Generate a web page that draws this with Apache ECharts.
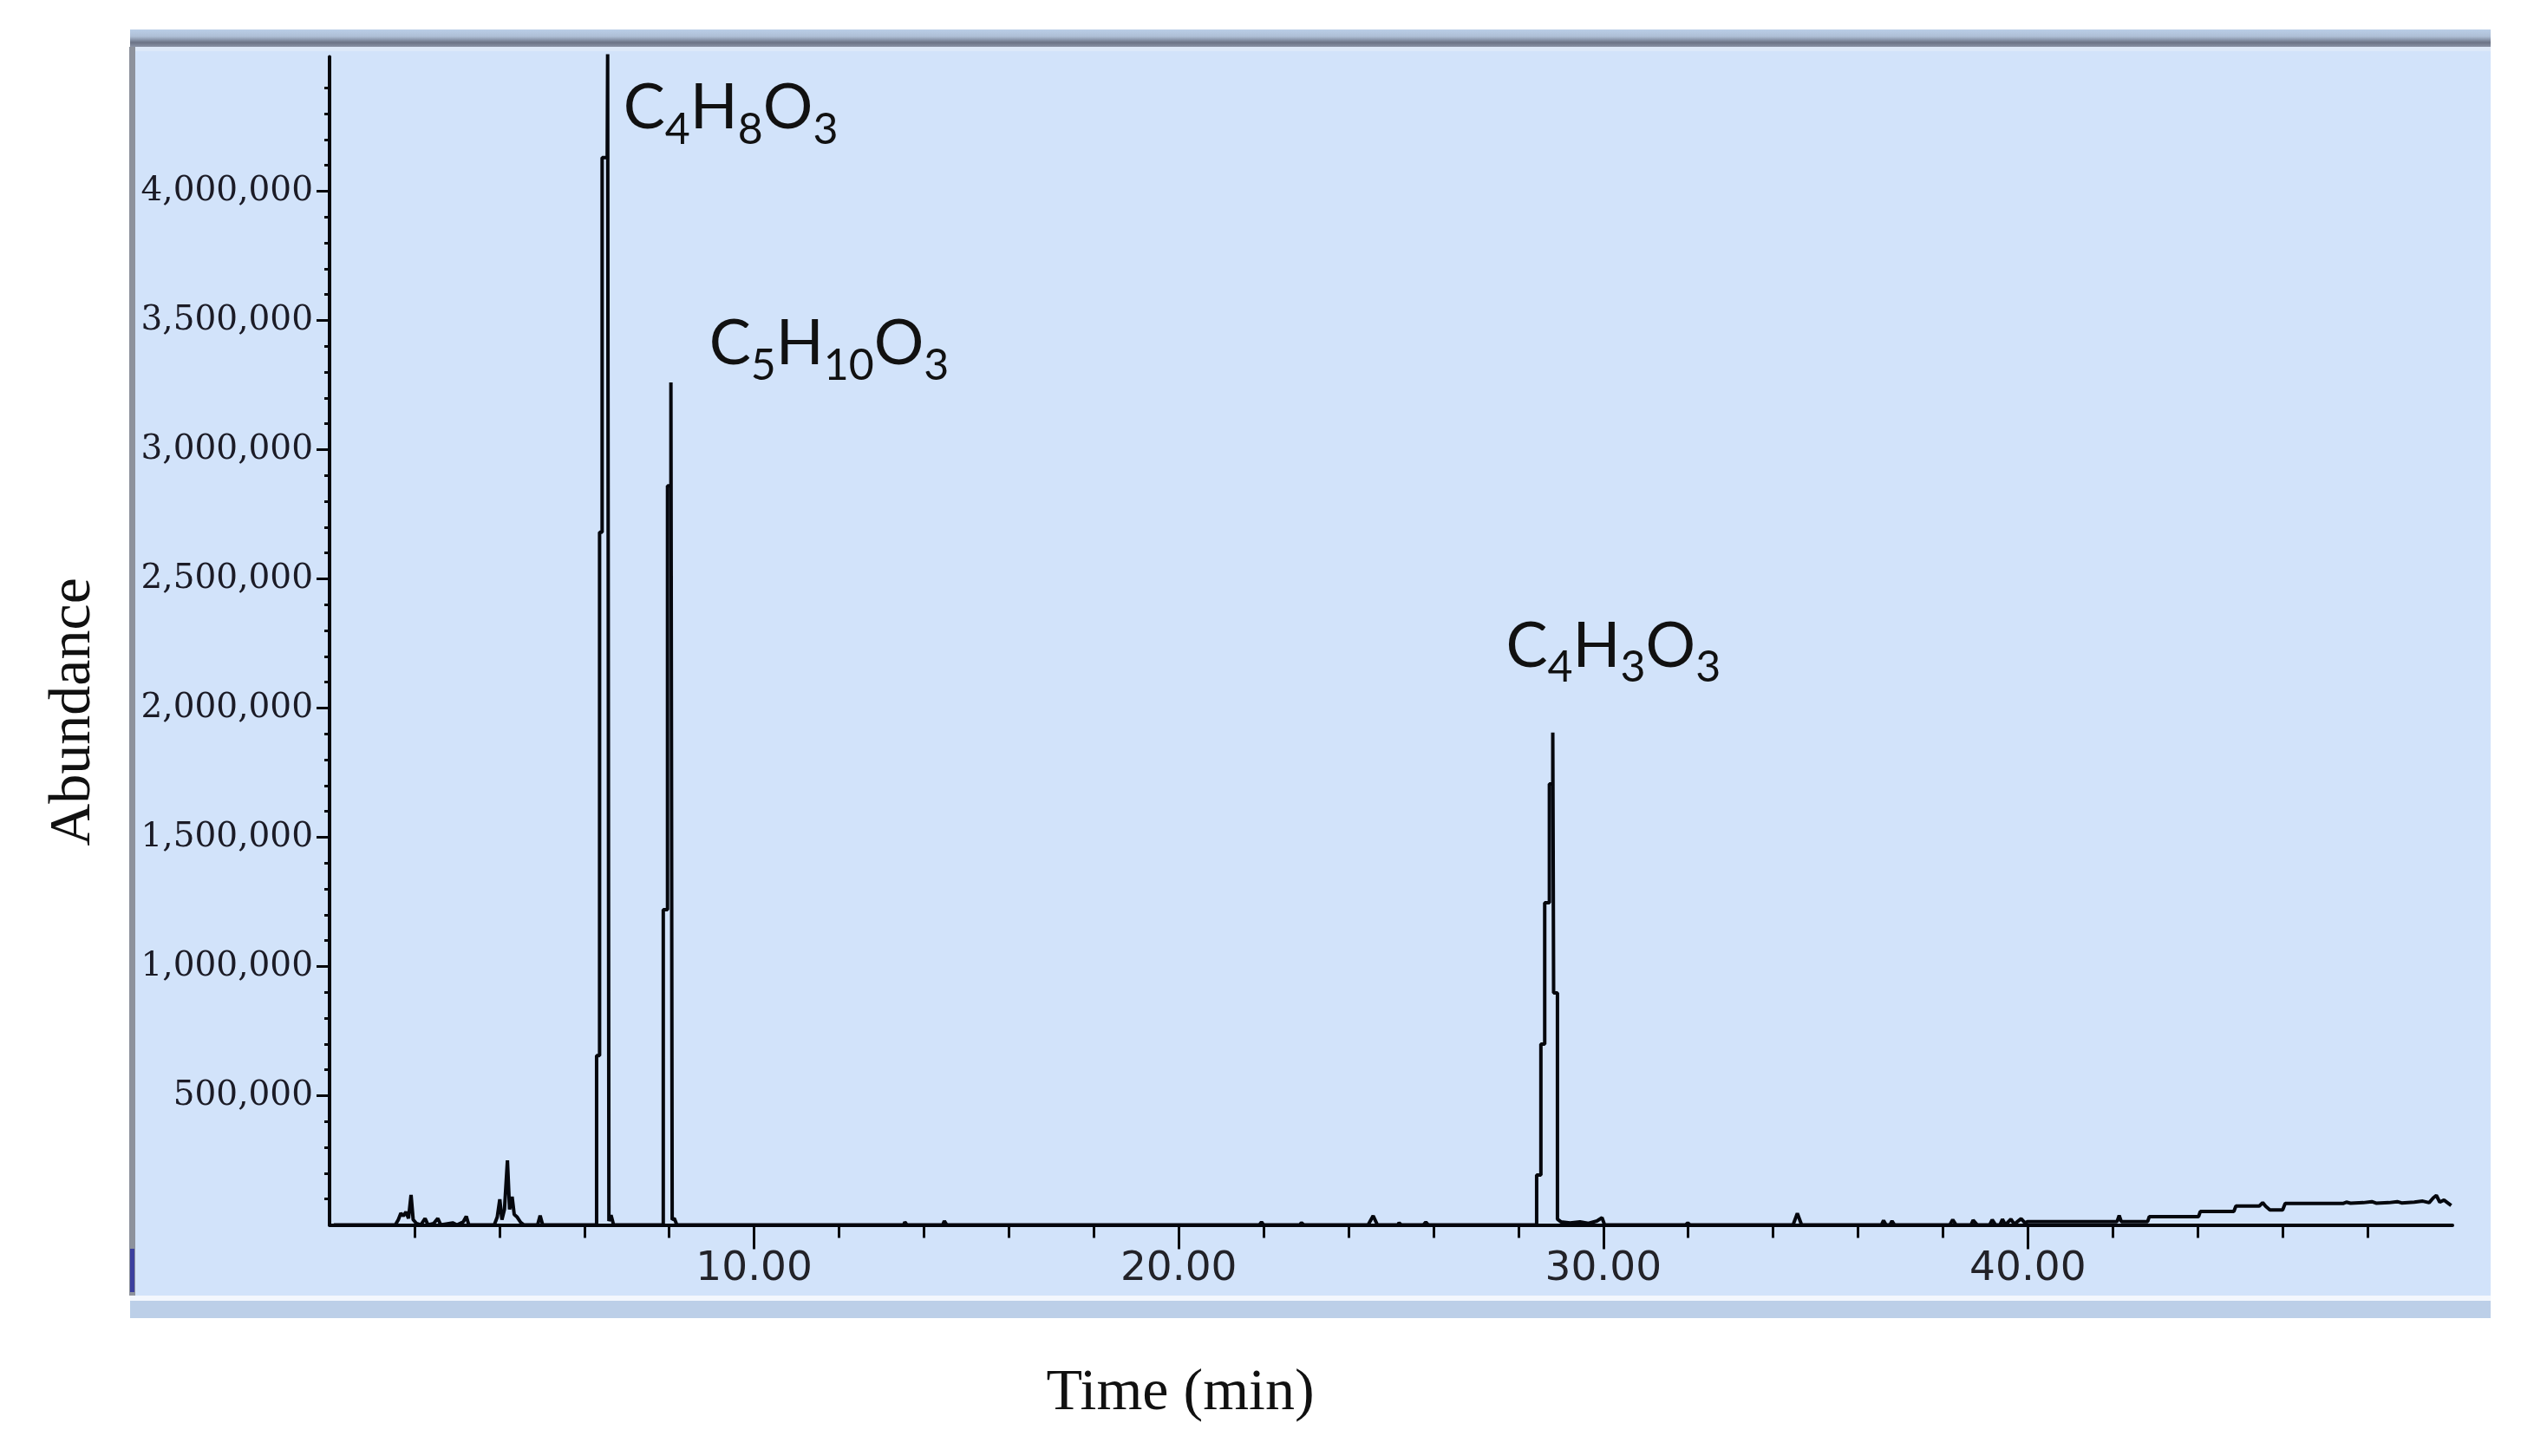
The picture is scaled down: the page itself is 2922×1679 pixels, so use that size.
<!DOCTYPE html>
<html>
<head>
<meta charset="utf-8">
<title>Chromatogram</title>
<script src="https://cdn.jsdelivr.net/npm/echarts@6/dist/echarts.min.js"></script>
<style>
  html, body { margin: 0; padding: 0; background: #ffffff; }
  #chart { width: 2922px; height: 1679px; }
</style>
</head>
<body>
<div id="chart"></div>
<script>
// retention time (min)
const times = [
  0.10, 1.55, 1.62, 1.68, 1.74, 1.80, 1.86, 1.92, 1.97, 2.05, 2.15, 2.25, 2.32, 2.45, 2.55, 2.62, 2.90, 3.00, 3.15, 3.22, 3.28,
  3.88, 3.95, 4.01, 4.06, 4.12, 4.19, 4.24, 4.30, 4.35, 4.42, 4.50, 4.58, 4.90, 4.96, 5.02,
  6.20, 6.29, 6.29, 6.36, 6.36, 6.42, 6.42, 6.54, 6.55, 6.57, 6.58, 6.63, 6.69,
  7.80, 7.86, 7.86, 7.96, 7.96, 8.04, 8.04, 8.06, 8.07, 8.12, 8.18,
  13.52, 13.55, 13.60, 14.44, 14.48, 14.54, 21.90, 21.95, 22.00, 22.85, 22.89, 22.95, 24.46, 24.58, 24.68, 25.16, 25.19, 25.24, 25.76, 25.82, 25.88,
  28.36, 28.43, 28.43, 28.53, 28.53, 28.62, 28.62, 28.73, 28.73, 28.81, 28.81, 28.83, 28.83, 28.92, 28.92, 29.00, 29.22, 29.45, 29.65, 29.85, 29.97, 30.03,
  31.94, 31.99, 32.04, 34.47, 34.57, 34.67, 36.55, 36.60, 36.66, 36.75, 36.80, 36.86, 38.16, 38.23, 38.31, 38.66, 38.71, 38.81, 39.10, 39.16, 39.24, 39.34, 39.40, 39.47, 39.60, 39.68, 39.84, 39.93,
  40.00, 42.10, 42.15, 42.20, 42.82, 42.86, 44.02, 44.06, 44.85, 44.90, 45.45, 45.53, 45.60, 45.70, 46.00, 46.06, 47.42, 47.50, 47.60, 47.90, 48.10, 48.20, 48.50, 48.70, 48.80, 49.10, 49.30, 49.45, 49.55, 49.62, 49.70, 49.80, 49.97
]
// abundance at each time
const abundance = [
  0, 0, 20000, 45000, 35000, 50000, 25000, 116000, 20000, 5000, 0, 25000, 0, 5000, 25000, 0, 8000, 0, 12000, 33000, 0,
  0, 30000, 99000, 20000, 60000, 250000, 60000, 109000, 40000, 30000, 10000, 0, 0, 36000, 0,
  0, 0, 655000, 655000, 2680000, 2680000, 4130000, 4130000, 4530000, 4530000, 15000, 38000, 0,
  0, 0, 1220000, 1220000, 2860000, 2860000, 3260000, 3260000, 20000, 25000, 0,
  0, 11000, 0, 0, 15000, 0, 0, 11000, 0, 0, 8000, 0, 0, 35000, 0, 0, 8000, 0, 0, 11000, 0,
  0, 0, 193000, 193000, 700000, 700000, 1247000, 1247000, 1706000, 1706000, 1905000, 1905000, 898000, 898000, 22000, 12000, 8000, 12000, 6000, 15000, 28000, 0,
  0, 8000, 0, 0, 45000, 0, 0, 17000, 0, 0, 15000, 0, 0, 20000, 0, 0, 18000, 0, 0, 20000, 0, 0, 22000, 0, 22000, 3000, 24000, 8000,
  13000, 13000, 36000, 13000, 13000, 32000, 32000, 52000, 52000, 73000, 73000, 86000, 72000, 58000, 58000, 83000, 83000, 88000, 84000, 86000, 90000, 84000, 86000, 90000, 85000, 88000, 92000, 86000, 105000, 114000, 88000, 96000, 75000
]
// axis tick labels
const xTickLabels = [10, 20, 30, 40]
const yTickLabels = [500000, 1000000, 1500000, 2000000, 2500000, 3000000, 3500000, 4000000]
// labelled peaks
const peakNames = ['C4H8O3', 'C5H10O3', 'C4H3O3']
const peakTimes = [6.56, 8.05, 28.82]

if (times.length !== abundance.length) console.error('length mismatch', times.length, abundance.length)

const ink = '#05070d'
const yMax = 4520000

// peak height = largest abundance close to the peak time (kept inside the axis so the mark shows)
function peakValue(t) {
  let best = 0
  times.forEach((x, i) => {
    if (Math.abs(x - t) < 0.2 && abundance[i] > best) best = abundance[i]
  })
  return Math.min(best, yMax)
}

// C4H8O3 -> rich text with subscripts
function formula(name) {
  return name.split(/(\d+)/).filter(Boolean).map(p => /\d/.test(p) ? '{s|' + p + '}' : '{m|' + p + '}').join('')
}

const labelPos = [[18, 10], [44, -94], [-54, -149]]

const chart = echarts.init(document.getElementById('chart'))

const option = {
  animation: false,
  backgroundColor: '#ffffff',
  grid: { left: 380, right: 94, top: 65.5, bottom: 266.5, containLabel: false },
  xAxis: {
    type: 'value',
    min: 0,
    max: 50,
    interval: 10,
    axisLine: { show: true, lineStyle: { color: ink, width: 4 } },
    axisTick: { show: true, customValues: xTickLabels, length: 28, lineStyle: { color: ink, width: 3 } },
    minorTick: { show: true, splitNumber: 5, length: 15, lineStyle: { color: ink, width: 3 } },
    axisLabel: {
      customValues: xTickLabels,
      formatter: v => v.toFixed(2),
      fontFamily: 'DejaVu Sans',
      fontSize: 47,
      color: '#222228',
      margin: 28
    },
    splitLine: { show: false }
  },
  yAxis: {
    type: 'value',
    min: 0,
    max: yMax,
    interval: 500000,
    axisLine: { show: true, lineStyle: { color: ink, width: 4 } },
    axisTick: { show: true, customValues: yTickLabels, length: 15, lineStyle: { color: ink, width: 3 } },
    minorTick: { show: true, splitNumber: 5, length: 6, lineStyle: { color: ink, width: 3 } },
    axisLabel: {
      customValues: yTickLabels,
      formatter: v => v.toLocaleString('en-US'),
      fontFamily: 'DejaVu Serif',
      fontSize: 39,
      color: '#1b1b26',
      margin: 19
    },
    splitLine: { show: false }
  },
  graphic: {
    elements: [
      // window frame round the plot
      { type: 'rect', z: -10, silent: true, shape: { x: 150, y: 34, width: 2722, height: 20 },
        style: { fill: new echarts.graphic.LinearGradient(0, 0, 0, 1, [
          { offset: 0, color: '#bacee7' },
          { offset: 0.4, color: '#aebfd6' },
          { offset: 0.75, color: '#6b7386' },
          { offset: 1, color: '#8a93a6' }
        ]) } },
      { type: 'rect', z: -10, silent: true, shape: { x: 150, y: 54, width: 2722, height: 1440 }, style: { fill: '#d2e3fa' } },
      { type: 'rect', z: -9, silent: true, shape: { x: 150, y: 54, width: 2722, height: 5 }, style: { fill: '#dde9f9' } },
      { type: 'rect', z: -9, silent: true, shape: { x: 150, y: 1494, width: 2722, height: 6 }, style: { fill: '#f3f7fd' } },
      { type: 'rect', z: -9, silent: true, shape: { x: 150, y: 1500, width: 2722, height: 20 }, style: { fill: '#bccfe8' } },
      { type: 'rect', z: -9, silent: true, shape: { x: 149, y: 54, width: 7, height: 1440 }, style: { fill: '#8d929c' } },
      { type: 'rect', z: -8, silent: true, shape: { x: 150, y: 1440, width: 5, height: 50 }, style: { fill: '#3b3f9e' } },
      // axis titles
      { type: 'text', z: 10, silent: true, x: 85, y: 821, rotation: Math.PI / 2,
        style: { text: 'Abundance', fontFamily: 'Liberation Serif', fontSize: 68, fill: '#111', align: 'center', verticalAlign: 'middle' } },
      { type: 'text', z: 10, silent: true, x: 1361, y: 1607,
        style: { text: 'Time (min)', fontFamily: 'Liberation Serif', fontSize: 68, fill: '#111', align: 'center', verticalAlign: 'middle' } }
    ]
  },
  series: [
    {
      type: 'line',
      data: times.map((t, i) => [t, abundance[i]]),
      symbol: 'none',
      showSymbol: false,
      clip: false,
      z: 5,
      lineStyle: { color: ink, width: 4 },
      markPoint: {
        symbol: 'circle',
        symbolSize: 1,
        silent: true,
        itemStyle: { color: 'rgba(0,0,0,0)' },
        data: peakNames.map((name, i) => ({
          coord: [peakTimes[i], peakValue(peakTimes[i])],
          label: {
            show: true,
            position: labelPos[i],
            formatter: formula(name),
            rich: {
              m: { fontFamily: 'Lato', fontSize: 72, lineHeight: 100, color: '#111', verticalAlign: 'middle' },
              s: { fontFamily: 'Lato', fontSize: 50, lineHeight: 43, color: '#111', verticalAlign: 'bottom' }
            }
          }
        }))
      }
    }
  ]
}

chart.setOption(option)
</script>
</body>
</html>
